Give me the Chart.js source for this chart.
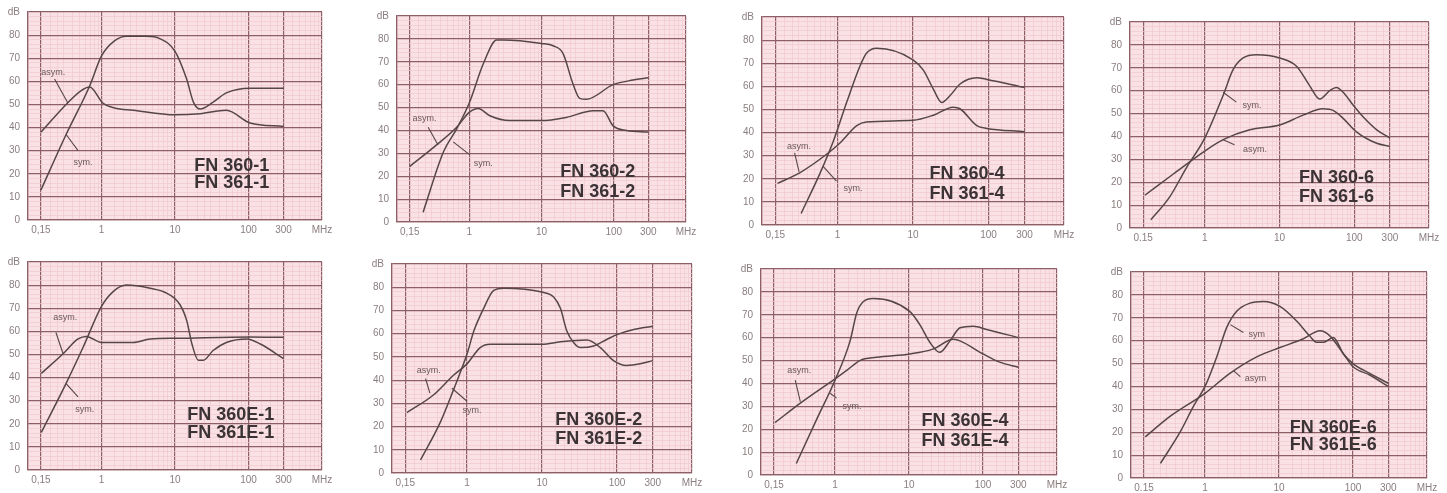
<!DOCTYPE html>
<html>
<head>
<meta charset="utf-8">
<script src="https://cdn.jsdelivr.net/npm/chart.js@4.4.1/dist/chart.umd.min.js"></script>
<style>
  html, body { margin: 0; padding: 0; background: #fff; width: 1447px; height: 493px; overflow: hidden; }
  body { position: relative; }
  canvas { position: absolute; }
</style>
</head>
<body>
<script>
// Tick labels
const freqTicks = [0.15, 1, 10, 100, 300, 1000];
const freqLabelsComma = ['0,15', '1', '10', '100', '300', 'MHz'];
const freqLabelsDot = ['0.15', '1', '10', '100', '300', 'MHz'];
const dbTicks = [0, 10, 20, 30, 40, 50, 60, 70, 80, 90];
const dbLabels = ['0', '10', '20', '30', '40', '50', '60', '70', '80', 'dB'];

// FN 360-1 / FN 361-1
const fn1SymMHz = [0.15, 0.33, 0.69, 1.0, 1.5, 2.2, 4, 6.2, 10, 14.4, 17.8, 22, 33, 50, 105, 300];
const fn1SymDb = [13, 37, 58, 71, 77.5, 79.5, 79.5, 78.5, 73, 61, 51, 48, 51, 55, 57, 57];
const fn1AsymMHz = [0.15, 0.33, 0.53, 0.69, 1.05, 1.5, 2.7, 10, 22, 50, 105, 300];
const fn1AsymDb = [38, 50, 56, 57.5, 50.5, 48.5, 47.5, 45.5, 46, 47.5, 42, 40.5];

// FN 360-2 / FN 361-2
const fn2SymMHz = [0.23, 0.44, 0.67, 1.0, 1.56, 2.4, 2.95, 10, 14.5, 19.9, 27, 33.8, 41.7, 98, 185, 300];
const fn2SymDb = [4.3, 30.7, 40.7, 52, 69, 79.5, 79.5, 78, 77, 73.6, 60.7, 54, 53.6, 60, 62, 63];
const fn2AsymMHz = [0.15, 0.35, 0.67, 1.0, 1.33, 1.93, 3.65, 10, 22, 52, 71, 98, 150, 300];
const fn2AsymDb = [24.3, 33.6, 41.4, 47.9, 49.6, 46.4, 44.3, 44.3, 45.7, 48.6, 48.6, 42, 40, 39.3];

// FN 360-4 / FN 361-4
const fn4SymMHz = [0.33, 0.58, 0.875, 1.32, 1.98, 2.43, 3.3, 10, 13.7, 18.6, 24, 31, 42, 70, 95, 300];
const fn4SymDb = [5, 22, 36, 53, 68.7, 74.4, 76.5, 71.5, 67, 58.8, 53, 56, 61, 63.7, 63, 59.5];
const fn4AsymMHz = [0.16, 0.32, 0.71, 1.07, 1.8, 2.4, 10, 18.6, 34, 42, 70, 95, 300];
const fn4AsymDb = [18, 22.7, 30.5, 35.4, 43, 44.6, 45.3, 47.5, 51, 50.3, 43, 41.8, 40.4];

// FN 360-6 / FN 361-6
const fn6SymMHz = [0.19, 0.34, 0.57, 1, 1.76, 2.4, 3.26, 4.9, 10, 16.9, 25.5, 34.5, 47, 57.6, 71, 97, 131, 200, 300];
const fn6SymDb = [3.6, 13.6, 26.4, 39.3, 57.9, 69.3, 74.3, 75.7, 74.3, 70.7, 62, 56.4, 60, 61.4, 59.3, 53.6, 48.6, 42.9, 39.3];
const fn6AsymMHz = [0.158, 0.38, 1, 1.76, 4, 10, 20.7, 38, 52, 71, 107, 200, 300];
const fn6AsymDb = [14.3, 23.6, 33.6, 38.6, 42.9, 45, 49.3, 52.1, 51.4, 47.9, 42, 37, 35.7];

// FN 360E-1 / FN 361E-1
const fnE1SymMHz = [0.152, 0.33, 0.56, 1, 1.44, 2.19, 4.6, 7.7, 11.7, 14.5, 17, 20.8, 24.3, 33, 50, 95, 145, 300];
const fnE1SymDb = [16.3, 37.5, 53, 70.8, 77.2, 80, 78.6, 76.5, 71.5, 64.4, 54.5, 47.5, 47.5, 51.7, 55.2, 56.7, 54.5, 48.2];
const fnE1AsymMHz = [0.152, 0.3, 0.48, 0.62, 1, 2.7, 4.6, 10.5, 105, 300];
const fnE1AsymDb = [41.8, 50.3, 56.7, 57.8, 55.2, 55.2, 56.7, 57, 57.6, 57.4];

// FN 360E-2 / FN 361E-2
const fnE2SymMHz = [0.24, 0.44, 0.66, 1, 1.23, 1.67, 2.27, 3.1, 10, 14.3, 17.6, 21.5, 26.5, 32.4, 48.8, 73, 100, 167, 300];
const fnE2SymDb = [5.6, 21.8, 35.8, 51.2, 61, 70.9, 78.6, 79.6, 77.9, 75.8, 70.9, 61, 56.1, 54, 54.7, 57.5, 59.6, 61.8, 63.2];
const fnE2AsymMHz = [0.158, 0.36, 0.66, 1, 1.5, 2.05, 10, 17.6, 40, 60, 90, 134, 203, 300];
const fnE2AsymDb = [26, 33.7, 42.1, 47, 54, 55.4, 55.4, 56.5, 57.3, 54, 48.4, 46.3, 47, 48.4];

// FN 360E-4 / FN 361E-4
const fnE4SymMHz = [0.30, 0.565, 1, 1.6, 1.96, 2.4, 3.3, 10.3, 14, 19.2, 26, 35.8, 49, 74, 112, 300];
const fnE4SymDb = [5, 24.3, 41.4, 58.6, 70.7, 75.7, 77.1, 71.4, 65.7, 57.9, 53.6, 58.6, 64.3, 65, 63.6, 60];
const fnE4AsymMHz = [0.155, 0.34, 1, 1.44, 2.17, 3.65, 10.3, 21, 40, 49, 100, 168, 300];
const fnE4AsymDb = [22.9, 31.4, 42, 45.7, 50, 51.4, 52.9, 55, 59.3, 58.6, 52.9, 49.3, 47.1];

// FN 360E-6 / FN 361E-6
const fnE6SymMHz = [0.25, 0.46, 0.7, 1, 1.44, 1.96, 2.68, 4.05, 6.1, 10.3, 17.3, 26, 32, 40, 54, 74, 100, 168, 300];
const fnE6SymDb = [6.4, 20, 31.4, 40, 52.9, 65.7, 72.9, 76.4, 77.1, 75, 68.6, 62, 59.3, 59.3, 61.4, 54.3, 50, 45.7, 41.4];
const fnE6AsymMHz = [0.155, 0.34, 1, 2.17, 5, 10.3, 21, 35.8, 49, 74, 100, 168, 300];
const fnE6AsymDb = [17.9, 27, 37, 45.7, 52.9, 57, 60.7, 64.3, 62, 54.3, 48.6, 45, 40];

// Colours
const PAPER = '#f9e1e5';
const MAJOR = '#8f5f67';
const MINOR = '#f0c9cf';
const INK = '#574649';

// Panels: plot-area box in page pixels, curves, titles, callouts
const panels = [
  { box: [28, 8, 322, 220], labels: freqLabelsComma, sym: [fn1SymMHz, fn1SymDb], asym: [fn1AsymMHz, fn1AsymDb],
    title: ['FN 360-1', 'FN 361-1'], titleAt: [59, 23.5, 16],
    notes: [['asym.', 0.22, 64, 0.23, 61, 0.35, 50.5], ['sym.', 0.56, 25, 0.48, 30, 0.33, 37]] },
  { box: [397, 12, 686, 222], labels: freqLabelsComma, sym: [fn2SymMHz, fn2SymDb], asym: [fn2AsymMHz, fn2AsymDb],
    title: ['FN 360-2', 'FN 361-2'], titleAt: [60, 22, 12.9],
    notes: [['asym.', 0.24, 45, 0.27, 41.4, 0.37, 33.6], ['sym.', 1.56, 25.7, 1.02, 29.3, 0.6, 35]] },
  { box: [762, 13, 1064, 225], labels: freqLabelsComma, sym: [fn4SymMHz, fn4SymDb], asym: [fn4AsymMHz, fn4AsymDb],
    title: ['FN 360-4', 'FN 361-4'], titleAt: [52, 22, 13.5],
    notes: [['asym.', 0.31, 34, 0.27, 31.2, 0.31, 23], ['sym.', 1.6, 15.6, 0.97, 19, 0.64, 25.5]] },
  { box: [1130, 18, 1429, 228], labels: freqLabelsDot, sym: [fn6SymMHz, fn6SymDb], asym: [fn6AsymMHz, fn6AsymDb],
    title: ['FN 360-6', 'FN 361-6'], titleAt: [58, 22, 13.6],
    notes: [['sym.', 4.3, 53.6, 2.65, 55, 1.76, 59.3], ['asym.', 4.7, 34.3, 2.5, 36.4, 1.76, 38.6]] },
  { box: [28, 258, 322, 470], labels: freqLabelsComma, sym: [fnE1SymMHz, fnE1SymDb], asym: [fnE1AsymMHz, fnE1AsymDb],
    title: ['FN 360E-1', 'FN 361E-1'], titleAt: [57.5, 24, 16],
    notes: [['asym.', 0.32, 65.9, 0.24, 59.5, 0.3, 50.3], ['sym.', 0.59, 26, 0.48, 31.6, 0.33, 37.4]] },
  { box: [392, 260, 692, 473], labels: freqLabelsComma, sym: [fnE2SymMHz, fnE2SymDb], asym: [fnE2AsymMHz, fnE2AsymDb],
    title: ['FN 360E-2', 'FN 361E-2'], titleAt: [57, 23, 14.7],
    notes: [['asym.', 0.31, 44.2, 0.28, 40.7, 0.32, 34.4], ['sym.', 1.17, 26.7, 1, 30.9, 0.63, 36.5]] },
  { box: [761, 265, 1057, 475], labels: freqLabelsComma, sym: [fnE4SymMHz, fnE4SymDb], asym: [fnE4AsymMHz, fnE4AsymDb],
    title: ['FN 360E-4', 'FN 361E-4'], titleAt: [57, 23.6, 15],
    notes: [['asym.', 0.33, 45.7, 0.29, 41.4, 0.34, 32.1], ['sym.', 1.7, 30, 1.05, 33.6, 0.86, 35.7]] },
  { box: [1131, 268, 1427, 478], labels: freqLabelsDot, sym: [fnE6SymMHz, fnE6SymDb], asym: [fnE6AsymMHz, fnE6AsymDb],
    title: ['FN 360E-6', 'FN 361E-6'], titleAt: [54, 22, 14.3],
    notes: [['sym', 5, 62.9, 3.3, 63.6, 2.2, 67], ['asym', 4.8, 43.6, 3, 44.3, 2.4, 47]] }
];

// Log paper grid values
const gridSteps = [1, 1.5, 2, 2.5, 3, 4, 5, 6, 7, 8, 9];
const xGrid = [];
[0.1, 1, 10, 100].forEach(d => gridSteps.forEach(k => xGrid.push(Number((k * d).toPrecision(6)))));
xGrid.push(1000);
const xMajor = [0.1, 0.15, 1, 10, 100, 300, 1000];
const yGrid = [];
for (let v = 0; v <= 90; v += 2) yGrid.push(v);

const PAD_L = 30, PAD_T = 10, PAD_R = 18, PAD_B = 20;

function near(a, b) { return Math.abs(a - b) < 1e-6 * Math.max(1, Math.abs(b)); }

function toPoints(xs, ys) {
  return xs.map((v, i) => ({ x: v, y: ys[i] }));
}

function paperPlugin(panel) {
  return {
    id: 'paper',
    beforeDraw(chart) {
      const { ctx, chartArea: a } = chart;
      ctx.save();
      ctx.fillStyle = PAPER;
      ctx.fillRect(a.left, a.top, a.right - a.left, a.bottom - a.top);
      ctx.restore();
    },
    afterDatasetsDraw(chart) {
      const { ctx } = chart;
      const x = chart.scales.x, y = chart.scales.y;
      ctx.save();
      // callouts
      ctx.strokeStyle = INK;
      ctx.lineWidth = 1.1;
      ctx.fillStyle = '#6b585b';
      ctx.font = '9px "Liberation Sans", Arial, sans-serif';
      ctx.textAlign = 'center';
      ctx.textBaseline = 'middle';
      panel.notes.forEach(n => {
        ctx.fillText(n[0], x.getPixelForValue(n[1]), y.getPixelForValue(n[2]));
        ctx.beginPath();
        ctx.moveTo(x.getPixelForValue(n[3]), y.getPixelForValue(n[4]));
        ctx.lineTo(x.getPixelForValue(n[5]), y.getPixelForValue(n[6]));
        ctx.stroke();
      });
      // type title
      ctx.fillStyle = '#3b3336';
      ctx.font = 'bold 18px "Liberation Sans", Arial, sans-serif';
      const tx = x.getPixelForValue(panel.titleAt[0]);
      ctx.fillText(panel.title[0], tx, y.getPixelForValue(panel.titleAt[1]));
      ctx.fillText(panel.title[1], tx, y.getPixelForValue(panel.titleAt[2]));
      ctx.restore();
    }
  };
}

panels.forEach(panel => {
  const [l, t, r, b] = panel.box;
  const canvas = document.createElement('canvas');
  const w = r - l + PAD_L + PAD_R;
  const h = b - t + PAD_T + PAD_B;
  canvas.width = w;
  canvas.height = h;
  canvas.style.left = (l - PAD_L) + 'px';
  canvas.style.top = (t - PAD_T) + 'px';
  canvas.style.width = w + 'px';
  canvas.style.height = h + 'px';
  document.body.appendChild(canvas);

  const lineStyle = {
    borderColor: INK,
    borderWidth: 1.5,
    pointRadius: 0,
    cubicInterpolationMode: 'monotone',
    fill: false
  };

  new Chart(canvas.getContext('2d'), {
    type: 'line',
    data: {
      datasets: [
        Object.assign({ label: 'sym.', data: toPoints(panel.sym[0], panel.sym[1]) }, lineStyle),
        Object.assign({ label: 'asym.', data: toPoints(panel.asym[0], panel.asym[1]) }, lineStyle)
      ]
    },
    options: {
      responsive: false,
      animation: false,
      devicePixelRatio: 1,
      layout: { padding: { left: 0, top: PAD_T, right: PAD_R, bottom: 0 } },
      plugins: { legend: { display: false }, tooltip: { enabled: false } },
      scales: {
        x: {
          type: 'logarithmic',
          min: 0.1,
          max: 1000,
          afterBuildTicks: s => { s.ticks = xGrid.map(v => ({ value: v })); },
          afterFit: s => { s.height = PAD_B; },
          border: { color: MAJOR, width: 1.2 },
          grid: {
            drawTicks: false,
            color: c => xMajor.some(m => near(c.tick.value, m)) ? MAJOR : MINOR,
            lineWidth: c => xMajor.some(m => near(c.tick.value, m)) ? 1.2 : 0.7
          },
          ticks: {
            autoSkip: false,
            maxRotation: 0,
            padding: 4,
            color: '#8a7d7f',
            font: { size: 10, family: '"Liberation Sans", Arial, sans-serif' },
            callback: v => {
              const i = freqTicks.findIndex(f => near(v, f));
              return i >= 0 ? panel.labels[i] : '';
            }
          }
        },
        y: {
          type: 'linear',
          min: 0,
          max: 90,
          afterBuildTicks: s => { s.ticks = yGrid.map(v => ({ value: v })); },
          afterFit: s => { s.width = PAD_L; },
          border: { color: MAJOR, width: 1.2 },
          grid: {
            drawTicks: false,
            color: c => c.tick.value % 10 === 0 ? MAJOR : MINOR,
            lineWidth: c => c.tick.value % 10 === 0 ? 1.2 : 0.7
          },
          ticks: {
            autoSkip: false,
            padding: 8,
            color: '#8a7d7f',
            font: { size: 10, family: '"Liberation Sans", Arial, sans-serif' },
            callback: v => {
              const i = dbTicks.indexOf(v);
              return i >= 0 ? dbLabels[i] : '';
            }
          }
        }
      }
    },
    plugins: [paperPlugin(panel)]
  });
});
</script>
</body>
</html>
